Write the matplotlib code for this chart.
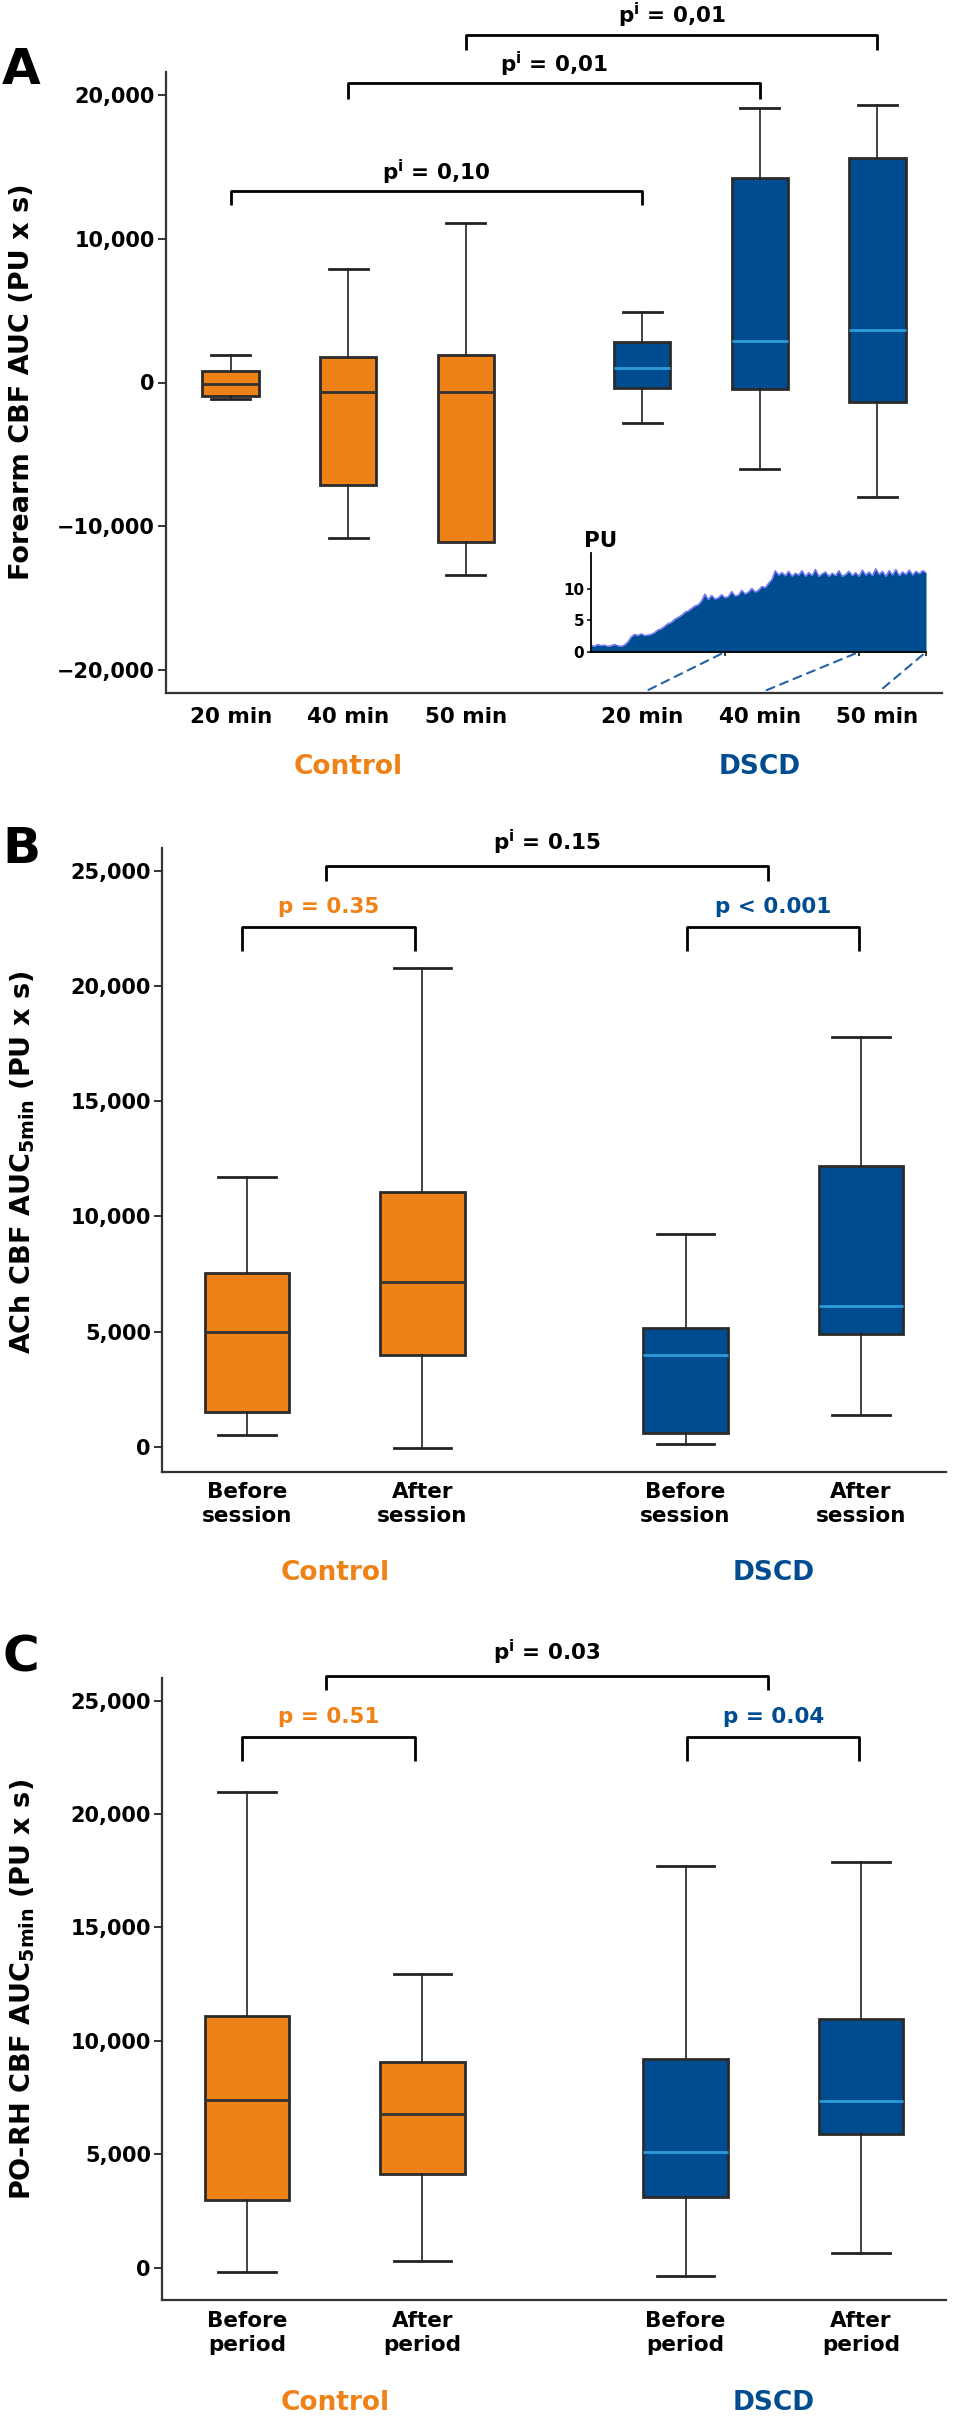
import numpy as np
import matplotlib
matplotlib.use("Agg")
import matplotlib.pyplot as plt
from matplotlib.patches import ConnectionPatch
from matplotlib.transforms import blended_transform_factory

plt.rcParams['font.family'] = ['DejaVu Sans']
plt.rcParams['font.weight'] = 'bold'
plt.rcParams['mathtext.default'] = 'bf'

ORANGE = '#EF8216'
BLUE = '#004C91'
MED_BLUE = '#2E9BD8'
EDGE = '#2b2b2b'

# --- panel A: forearm CBF AUC (box stats)
a_ticks = ['20 min', '40 min', '50 min', '20 min', '40 min', '50 min']
a_whislo = [-1160, -10790, -13360, -2850, -6040, -7990]
a_q1 = [-930, -7130, -11070, -380, -470, -1390]
a_med = [-70, -650, -690, 1010, 2890, 3680]
a_q3 = [810, 1740, 1880, 2800, 14210, 15630]
a_whishi = [1880, 7920, 11110, 4900, 19120, 19310]
a_p = ['0,10', '0,01', '0,01']

# inset trace (PU), one value every 0.5 min from 0 to 50 min
inset_pu = [1.1, 0.9, 1.2, 1.0, 1.1, 0.9, 1.0, 1.2, 1.0, 0.9, 1.1,
            1.6, 2.4, 2.8, 2.6, 2.9, 2.6, 2.7, 2.8,
            3.1, 3.5, 3.7, 4.1, 4.5, 4.7, 5.2, 5.5, 5.8, 6.3, 6.5, 6.9, 7.3, 7.5, 8.1, 9.2,
            8.3, 9.0, 8.4, 8.6, 9.1, 8.6, 8.8, 9.6, 8.9, 9.0, 9.8, 9.2, 9.5, 10.1, 9.5, 9.8, 10.4, 10.2,
            10.9, 11.5, 12.9, 12.2, 12.6,
            12.1, 12.8, 12.0, 12.5, 12.2, 12.9, 12.0, 12.6, 12.1, 13.1, 12.0, 12.4, 12.7, 12.0,
            12.5, 12.1, 12.9, 12.0, 12.3, 12.8, 12.1, 12.6, 12.0, 13.0, 12.2, 12.7, 12.1, 13.2,
            12.3, 12.8, 12.0, 12.9, 12.2, 13.1, 12.1, 12.7, 12.3, 13.0, 12.2, 12.8, 12.4, 12.9, 12.6]

# --- panel B: ACh CBF AUC 5min
b_ticks = ['Before\nsession', 'After\nsession', 'Before\nsession', 'After\nsession']
b_whislo = [510, -70, 130, 1360]
b_q1 = [1520, 3960, 590, 4880]
b_med = [5000, 7130, 4000, 6100]
b_q3 = [7540, 11060, 5150, 12190]
b_whishi = [11700, 20770, 9230, 17810]
b_p = ['0.15', '= 0.35', '< 0.001']

# --- panel C: PO-RH CBF AUC 5min
c_ticks = ['Before\nperiod', 'After\nperiod', 'Before\nperiod', 'After\nperiod']
c_whislo = [-200, 300, -380, 650]
c_q1 = [2960, 4140, 3110, 5910]
c_med = [7390, 6770, 5110, 7360]
c_q3 = [11110, 9060, 9180, 10980]
c_whishi = [20990, 12960, 17710, 17870]
c_p = ['0.03', '= 0.51', '= 0.04']

groups = ['Control', 'DSCD']

W, H = 968, 2418
fig = plt.figure(figsize=(W / 100, H / 100), dpi=100)


def px_axes(l, t, r, b):
    return fig.add_axes([l / W, 1 - b / H, (r - l) / W, (b - t) / H])


def fmt(v):
    return f"{v:,.0f}".replace('-', '\u2212')


def draw_boxes(ax, pos, whislo, q1, med, q3, whishi, n_ctrl):
    stats = []
    for i in range(len(pos)):
        stats.append(dict(whislo=whislo[i], q1=q1[i], med=med[i], q3=q3[i], whishi=whishi[i]))
    bp = ax.bxp(stats, positions=pos, widths=0.48, capwidths=0.33, patch_artist=True,
                showfliers=False,
                boxprops=dict(edgecolor=EDGE, linewidth=2.0),
                whiskerprops=dict(color='#222222', linewidth=1.2),
                capprops=dict(color='#222222', linewidth=2.0),
                medianprops=dict(linewidth=2.0))
    for i, (box, m) in enumerate(zip(bp['boxes'], bp['medians'])):
        if i < n_ctrl:
            box.set_facecolor(ORANGE)
            m.set_color('#333333')
        else:
            box.set_facecolor(BLUE)
            m.set_color(MED_BLUE)


def style_axes(ax, ticks, labels, yticks, pad):
    for s in ['top', 'right']:
        ax.spines[s].set_visible(False)
    for s in ['left', 'bottom']:
        ax.spines[s].set_color('#333333')
        ax.spines[s].set_linewidth(1.6)
    ax.set_yticks(yticks)
    ax.set_yticklabels([fmt(v) for v in yticks], fontsize=15, fontweight='bold')
    ax.tick_params(axis='y', length=6, width=1.4, pad=2, color='#333333')
    ax.set_xticks(ticks)
    ax.set_xticklabels(labels, fontsize=15.5, fontweight='bold', linespacing=1.25)
    ax.tick_params(axis='x', length=0, pad=pad)


def bracket(ax, x1, x2, y, drop, text, ty, color, fs=15.5):
    ax.plot([x1, x1, x2, x2], [y - drop, y, y, y - drop], color='black', lw=2.0,
            clip_on=False, solid_joinstyle='round', solid_capstyle='butt')
    ax.text((x1 + x2) / 2, ty, text, ha='center', va='baseline', fontsize=fs,
            fontweight='bold', color=color, clip_on=False)


def group_labels(ax, xs, ypx):
    tr = blended_transform_factory(ax.transData, fig.transFigure)
    for x, g, c in zip(xs, groups, [ORANGE, BLUE]):
        ax.text(x, 1 - ypx / H, g, transform=tr, ha='center', va='center',
                fontsize=19, fontweight='bold', color=c)


# ================= panel A
axA = px_axes(166, 72, 942, 693)
posA = [1, 2, 3, 4.5, 5.5, 6.5]
draw_boxes(axA, posA, a_whislo, a_q1, a_med, a_q3, a_whishi, 3)
axA.set_xlim(0.45, 7.05)
axA.set_ylim(-21600, 21600)
style_axes(axA, posA, a_ticks, [-20000, -10000, 0, 10000, 20000], 10)
bracket(axA, 1, 4.5, 13306, 990, r'p$^{i}$ = ' + a_p[0], 14049, 'black')
bracket(axA, 2, 5.5, 20833, 1110, r'p$^{i}$ = ' + a_p[1], 21569, 'black')
bracket(axA, 3, 6.5, 24167, 1040, r'p$^{i}$ = ' + a_p[2], 24972, 'black')
group_labels(axA, [2, 5.5], 767)
fig.text(22.5 / W, 1 - 382 / H, 'Forearm CBF AUC (PU x s)', rotation=90,
         ha='center', va='center', fontsize=19.5, fontweight='bold')
fig.text(21 / W, 1 - 70 / H, 'A', ha='center', va='center', fontsize=36, fontweight='bold')

# inset trace
ins = px_axes(591, 553, 926, 652)
t = np.arange(len(inset_pu)) * 0.5
ins.fill_between(t, 0, inset_pu, color=BLUE, lw=0)
ins.plot(t, inset_pu, color='#7373ff', lw=1.0)
ins.set_xlim(0, 50)
ins.set_ylim(0, 15.7)
ins.patch.set_alpha(0)
for s in ['top', 'right']:
    ins.spines[s].set_visible(False)
for s in ['left', 'bottom']:
    ins.spines[s].set_linewidth(1.3)
ins.set_yticks([0, 5, 10])
ins.set_yticklabels(['0', '5', '10'], fontsize=11, fontweight='bold')
ins.set_xticks([20, 40, 50])
ins.set_xticklabels([])
ins.tick_params(axis='both', length=3, width=1.1, pad=2)
ins.text(-0.02, 1.12, 'PU', transform=ins.transAxes, ha='left', va='center',
         fontsize=15.5, fontweight='bold')
for xa, xb in zip([20, 40, 50], posA[3:]):
    con = ConnectionPatch(xyA=(xa, 0), coordsA=ins.transData,
                          xyB=(xb, -21600), coordsB=axA.transData,
                          linestyle=(0, (4, 3)), color='#2462a8', lw=1.5,
                          shrinkA=3, shrinkB=1)
    fig.add_artist(con)

# ================= panel B
axB = px_axes(162, 848, 946, 1472)
posB = [1, 2, 3.5, 4.5]
draw_boxes(axB, posB, b_whislo, b_q1, b_med, b_q3, b_whishi, 2)
axB.set_xlim(0.515, 4.985)
axB.set_ylim(-1100, 26000)
style_axes(axB, posB, b_ticks, [0, 5000, 10000, 15000, 20000, 25000], 7)
bracket(axB, 1.45, 3.97, 25217, 640, r'p$^{i}$ = ' + b_p[0], 25883, 'black')
bracket(axB, 0.97, 1.96, 22578, 1040, 'p ' + b_p[1], 23187, ORANGE)
bracket(axB, 3.51, 4.49, 22578, 1040, 'p ' + b_p[2], 23187, BLUE)
group_labels(axB, [1.5, 4.0], 1573)
fig.text(22.5 / W, 1 - 1162 / H, r'ACh CBF AUC$_{5min}$ (PU x s)', rotation=90,
         ha='center', va='center', fontsize=19.5, fontweight='bold')
fig.text(21.5 / W, 1 - 849 / H, 'B', ha='center', va='center', fontsize=36, fontweight='bold')

# ================= panel C
axC = px_axes(162, 1678, 946, 2300)
draw_boxes(axC, posB, c_whislo, c_q1, c_med, c_q3, c_whishi, 2)
axC.set_xlim(0.515, 4.985)
axC.set_ylim(-1430, 26000)
style_axes(axC, posB, c_ticks, [0, 5000, 10000, 15000, 20000, 25000], 8)
bracket(axC, 1.45, 3.97, 26081, 630, r'p$^{i}$ = ' + c_p[0], 26787, 'black')
bracket(axC, 0.97, 1.96, 23407, 1046, 'p ' + c_p[1], 23994, ORANGE)
bracket(axC, 3.51, 4.49, 23407, 1046, 'p ' + c_p[2], 23994, BLUE)
group_labels(axC, [1.5, 4.0], 2403)
fig.text(22.5 / W, 1 - 1989 / H, r'PO-RH CBF AUC$_{5min}$ (PU x s)', rotation=90,
         ha='center', va='center', fontsize=19.5, fontweight='bold')
fig.text(20.5 / W, 1 - 1658 / H, 'C', ha='center', va='center', fontsize=36, fontweight='bold')

fig.savefig('out.png', dpi=100)
